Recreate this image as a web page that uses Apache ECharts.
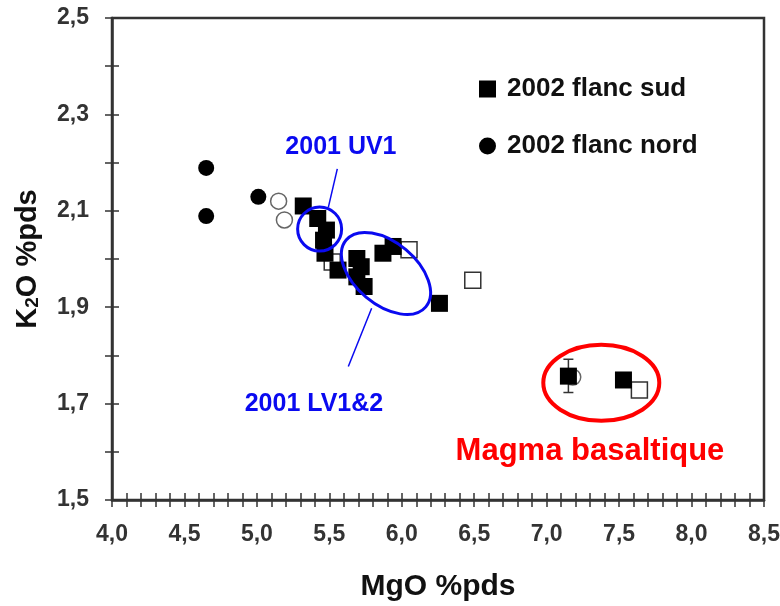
<!DOCTYPE html>
<html><head><meta charset="utf-8">
<script src="https://cdn.jsdelivr.net/npm/echarts@6/dist/echarts.min.js"></script>
<style>html,body{margin:0;padding:0;background:#fff}#c{width:780px;height:606px}</style>
</head><body><div id="c"></div>
<script>
// ---- data (MgO %pds, K2O %pds) ----
const sudFilled = [[5.32,2.110],[5.42,2.084],[5.48,2.060],[5.46,2.039],[5.47,2.012],[5.56,1.977],
  [5.69,2.001],[5.72,1.984],[5.69,1.963],[5.74,1.943],[5.87,2.012],[5.94,2.026],[6.26,1.908],
  [7.15,1.757],[7.53,1.749]];
const nordFilled = [[4.65,2.189],[4.65,2.089],[5.01,2.129]];
const sudOpen = [[5.52,1.994],[6.05,2.019],[6.49,1.956],[7.64,1.728]];
const nordOpen = [[5.15,2.120],[5.19,2.081],[7.18,1.755]];
const errorBars = [[7.15,1.723,1.792]];
const legendNames = ['2002 flanc sud','2002 flanc nord'];
const xName = 'MgO %pds';
const annotationTexts = ['2001 UV1','2001 LV1&2','Magma basaltique'];

const FONT = '"Liberation Sans", Arial, sans-serif';
const fmt = v => v.toFixed(1).replace('.', ',');

const chart = echarts.init(document.getElementById('c'), null, {renderer:'canvas'});

const baseX = {type:'value', min:4, max:8.5, interval:0.1, gridIndex:0};
const baseY = {type:'value', min:1.5, max:2.5, interval:0.1, gridIndex:0};
const tickStyle = {color:'#333', width:1.5};
const labelStyle = {fontSize:23, fontWeight:'bold', color:'#333', fontFamily:FONT, margin:23};

chart.setOption({
  animation:false,
  backgroundColor:'#fff',
  grid:{left:112, right:16, top:18, bottom:106, show:true, borderColor:'#333', borderWidth:2.5,
        backgroundColor:'transparent', containLabel:false, outerBoundsMode:'none'},
  legend:{
    data:[{name:legendNames[0], icon:'rect'},{name:legendNames[1], icon:'circle'}],
    orient:'vertical', left:474, top:71, itemWidth:17, itemHeight:17, itemGap:31,
    selectedMode:false,
    itemStyle:{opacity:1, color:'#000'},
    textStyle:{fontSize:26, fontWeight:'bold', color:'#111', fontFamily:FONT, padding:[0,0,0,6]}
  },
  xAxis:[
    Object.assign({}, baseX, {
      position:'bottom',
      axisLine:{show:true, onZero:false, lineStyle:{color:'#333', width:2.5}},
      axisTick:{show:true, inside:false, length:7, lineStyle:tickStyle},
      axisLabel:Object.assign({}, labelStyle, {
        formatter:v => (Math.round(v*10) % 5 === 0 ? fmt(v) : ''),
        showMinLabel:true, showMaxLabel:true, hideOverlap:false}),
      splitLine:{show:false},
      name:xName, nameLocation:'middle', nameGap:72, nameMoveOverlap:false,
      nameTextStyle:{fontSize:30, fontWeight:'bold', color:'#111', fontFamily:FONT}
    }),
    Object.assign({}, baseX, {
      position:'bottom',
      axisLine:{show:false, onZero:false},
      axisTick:{show:true, inside:true, length:7, lineStyle:tickStyle},
      axisLabel:{show:false}, splitLine:{show:false}
    })
  ],
  yAxis:[
    Object.assign({}, baseY, {
      position:'left',
      axisLine:{show:true, onZero:false, lineStyle:{color:'#333', width:2.5}},
      axisTick:{show:true, inside:false, length:7, lineStyle:tickStyle},
      axisLabel:Object.assign({}, labelStyle, {
        formatter:v => (Math.round(v*10) % 2 === 1 ? fmt(v) : ''),
        showMinLabel:true, showMaxLabel:true, hideOverlap:false}),
      splitLine:{show:false},
      name:'{k|K}{s|2}{k|O %pds}', nameLocation:'middle', nameGap:70, nameRotate:90, nameMoveOverlap:false,
      nameTextStyle:{rich:{
        k:{fontSize:29, fontWeight:'bold', color:'#111', fontFamily:FONT},
        s:{fontSize:19, fontWeight:'bold', color:'#111', fontFamily:FONT, verticalAlign:'bottom'}
      }}
    }),
    Object.assign({}, baseY, {
      position:'left',
      axisLine:{show:false, onZero:false},
      axisTick:{show:true, inside:true, length:7, lineStyle:tickStyle},
      axisLabel:{show:false}, splitLine:{show:false}
    })
  ],
  series:[
    {type:'scatter', name:'2001 nord', data:nordOpen, symbol:'circle', symbolSize:16, z:2,
     itemStyle:{color:'#fff', borderColor:'#666', borderWidth:1.5, opacity:1}, emphasis:{disabled:true}},
    {type:'scatter', name:'2001 sud', data:sudOpen, symbol:'rect', symbolSize:16, z:2,
     itemStyle:{color:'#fff', borderColor:'#333', borderWidth:1.5, opacity:1}, emphasis:{disabled:true}},
    {type:'custom', name:'err', data:errorBars, z:3,
     renderItem:(params, api) => {
       const x = api.value(0);
       const lo = api.coord([x, api.value(1)]);
       const hi = api.coord([x, api.value(2)]);
       const st = {stroke:'#333', lineWidth:1.5};
       return {type:'group', children:[
         {type:'line', shape:{x1:lo[0], y1:lo[1], x2:hi[0], y2:hi[1]}, style:st},
         {type:'line', shape:{x1:lo[0]-5, y1:lo[1], x2:lo[0]+5, y2:lo[1]}, style:st},
         {type:'line', shape:{x1:hi[0]-5, y1:hi[1], x2:hi[0]+5, y2:hi[1]}, style:st}
       ]};
     }},
    {type:'scatter', name:legendNames[0], data:sudFilled, symbol:'rect', symbolSize:17, z:4,
     itemStyle:{color:'#000', opacity:1}, emphasis:{disabled:true}},
    {type:'scatter', name:legendNames[1], data:nordFilled, symbol:'circle', symbolSize:16, z:4,
     itemStyle:{color:'#000', opacity:1}, emphasis:{disabled:true}}
  ]
});

// ---- annotations anchored in data space ----
const P = p => chart.convertToPixel({xAxisIndex:0, yAxisIndex:0}, p);
const BLUE = '#0a0af0', RED = '#ff0000';
const ellipses = [
  {c:[5.433,2.062], rx:22, ry:22, rot:0, color:BLUE, w:3},
  {c:[5.891,1.970], rx:52, ry:31, rot:-40*Math.PI/180, color:BLUE, w:3},
  {c:[7.377,1.743], rx:58, ry:38, rot:0, color:RED, w:4}
];
const leaders = [
  {a:[5.555,2.187], b:[5.493,2.107]},
  {a:[5.792,1.898], b:[5.631,1.777]}
];
const texts = [
  {t:annotationTexts[0], at:[5.58,2.232], color:BLUE, size:25},
  {t:annotationTexts[1], at:[5.394,1.699], color:BLUE, size:25},
  {t:annotationTexts[2], at:[7.299,1.600], color:RED, size:31}
];
const g = [];
ellipses.forEach(e => {
  const c = P(e.c);
  g.push({type:'ellipse', x:c[0], y:c[1], rotation:e.rot, z:100,
    shape:{cx:0, cy:0, rx:e.rx, ry:e.ry},
    style:{fill:'none', stroke:e.color, lineWidth:e.w}});
});
leaders.forEach(l => {
  const a = P(l.a), b = P(l.b);
  g.push({type:'line', z:100, shape:{x1:a[0], y1:a[1], x2:b[0], y2:b[1]},
    style:{stroke:BLUE, lineWidth:1.5}});
});
texts.forEach(t => {
  const c = P(t.at);
  g.push({type:'text', x:c[0], y:c[1], z:100,
    style:{text:t.t, fill:t.color, fontSize:t.size, fontWeight:'bold', fontFamily:FONT,
           align:'center', verticalAlign:'middle'}});
});
chart.setOption({graphic:g});
</script>
</body></html>
